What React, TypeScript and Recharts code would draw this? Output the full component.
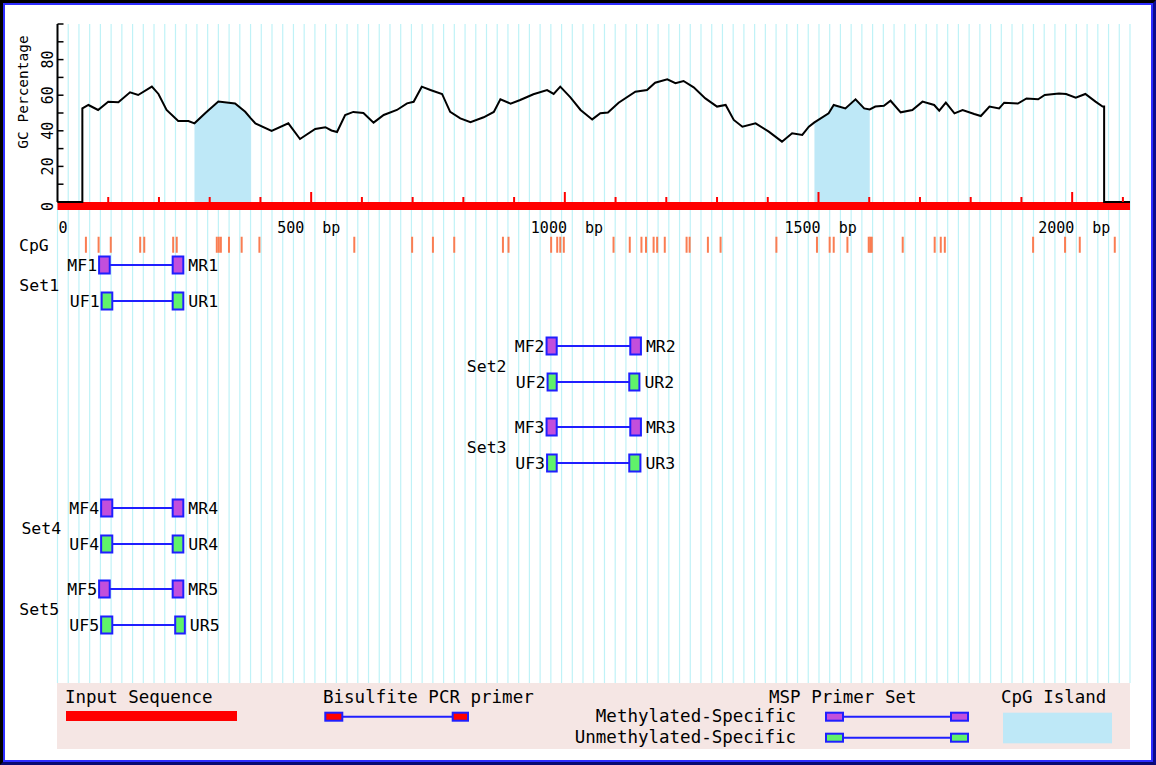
import React from "react";
import {
  ComposedChart,
  Line,
  Area,
  Scatter,
  XAxis,
  YAxis,
  CartesianGrid,
  ReferenceArea,
  ReferenceLine,
  ReferenceDot,
} from "recharts";

const seqLength = 2114;

// GC percentage profile: [position (bp), GC %]
const gcProfile: [number, number][] = [
  [0, 0], [49, 0], [49, 52.6], [61, 54.5], [80, 51.7], [100, 56.3], [120, 56], [143, 61.6],
  [159, 60.1], [186, 64.8], [199, 60.7], [215, 51.7], [238, 45.5], [258, 45.5], [270, 44.2],
  [291, 49.8], [317, 56.4], [350, 55.3], [370, 50.7], [381, 47], [390, 44.2], [422, 39.9],
  [455, 44.2], [478, 35.4], [508, 41], [528, 42], [540, 40.2], [551, 39.3], [567, 48.9],
  [583, 50.6], [603, 50], [623, 44.6], [643, 48.9], [669, 51.7], [689, 55.4], [702, 56.3],
  [718, 64.8], [735, 62.9], [758, 60.7], [774, 50.6], [794, 47], [814, 44.8], [840, 47.6],
  [860, 50.6], [873, 57.7], [893, 55.3], [912, 57.3], [938, 60.5], [965, 62.9], [978, 60.7],
  [991, 64.8], [1011, 58.8], [1031, 51.7], [1054, 46.4], [1070, 49.9], [1085, 50.3],
  [1106, 55.8], [1139, 62], [1162, 62.9], [1178, 67], [1202, 68.9], [1218, 66.7], [1234, 68],
  [1254, 64.4], [1277, 58.2], [1300, 53.6], [1317, 54.5], [1333, 46.1], [1350, 42.3],
  [1376, 44.2], [1402, 39.5], [1428, 33.9], [1448, 38.6], [1468, 37.7], [1481, 42.3],
  [1492, 44.7], [1520, 49.8], [1530, 54.5], [1553, 52.6], [1573, 57.7], [1590, 52.6],
  [1601, 52], [1612, 53.6], [1629, 54.1], [1642, 56.9], [1662, 50.4], [1685, 51.7],
  [1705, 56.4], [1728, 54.5], [1738, 51.3], [1751, 55.8], [1768, 49.8], [1784, 51.7],
  [1807, 49.4], [1820, 48.3], [1837, 53.6], [1856, 52.6], [1866, 55.8], [1893, 55.3],
  [1910, 58.2], [1933, 57.7], [1946, 60.1], [1974, 61], [1988, 60.7], [2007, 58.6],
  [2026, 60.7], [2046, 56.4], [2060, 53.6], [2063, 53.6], [2063, 0], [2114, 0],
];

const cpgIslands: [number, number][] = [
  [270, 381],
  [1492, 1601],
];

const cpgSites = [
  56, 81, 105, 163, 171, 228, 235, 314, 318, 322, 338, 363, 398, 585, 699, 740, 782, 878, 889,
  973, 985, 991, 998, 1096, 1128, 1151, 1160, 1175, 1182, 1197, 1240, 1246, 1282, 1307, 1417,
  1497, 1522, 1530, 1557, 1599, 1602, 1605, 1666, 1729, 1741, 1749, 1923, 1986, 2015, 2084,
];

// MSP primer sets (bp start, end)
const setNames = ["Set1", "Set2", "Set3", "Set4", "Set5"];
const mfPrimers: [number, number][] = [[82, 103], [964, 984], [964, 984], [86, 108], [82, 103]];
const mrPrimers: [number, number][] = [[227, 248], [1129, 1150], [1129, 1150], [227, 248], [227, 248]];
const ufPrimers: [number, number][] = [[87, 108], [966, 984], [965, 984], [86, 108], [86, 108]];
const urPrimers: [number, number][] = [[227, 248], [1127, 1147], [1127, 1149], [227, 248], [232, 251]];

const bpTicks = [
  0, 100, 200, 300, 400, 500, 600, 700, 800, 900, 1000, 1100, 1200, 1300, 1400, 1500, 1600,
  1700, 1800, 1900, 2000, 2100,
];
const bpLabels = [0, 500, 1000, 1500, 2000];
const gcTicks = [0, 10, 20, 30, 40, 50, 60, 70, 80, 90, 100];
const gcLabels = [0, 20, 40, 60, 80];

const gridTicks = Array.from({ length: 100 }, (_, i) => ((i + 1) * seqLength) / 100);

const mono = "'DejaVu Sans Mono', monospace";
const gridColor = "#bff2f7";
const islandColor = "#bee8f7";
const methColor = "#c24fdc";
const unmethColor = "#60f26a";
const primerBlue = "#1f1fff";
const cpgColor = "#fa7d52";

const cpgTrack = -2.25;
const boxHalf = 0.95;

const gcData = gcProfile.map(([bp, gc]) => ({
  bp,
  gc,
  island: cpgIslands.some(([s, e]) => bp >= s && bp <= e) ? gc : null,
}));

const cpgData = cpgSites.map((bp) => ({ bp, track: cpgTrack }));

function BpTick(props: any) {
  const { x, y, payload } = props;
  const v = payload.value;
  const major = bpLabels.includes(v);
  return (
    <g>
      {v !== 0 && (
        <line x1={x} x2={x} y1={y} y2={y - (major ? 10 : 5)} stroke="#ff0000" strokeWidth={2} />
      )}
      {major && (
        <text
          x={v === 0 ? x + 1 : x - 34}
          y={y + 31}
          fontFamily={mono}
          fontSize={15}
          fill="#000"
          style={{ whiteSpace: "pre" }}
        >
          {v === 0 ? "0" : `${v}  bp`}
        </text>
      )}
    </g>
  );
}

function GcTick(props: any) {
  const { x, y, payload } = props;
  const v = payload.value;
  return (
    <g>
      <line x1={x} x2={x + 6} y1={y} y2={y} stroke="#000" strokeWidth={1.5} />
      {gcLabels.includes(v) && (
        <text
          transform={`translate(${x - 4.5},${y + 9}) rotate(-90)`}
          fontFamily={mono}
          fontSize={15}
          fill="#000"
        >
          {v}
        </text>
      )}
    </g>
  );
}

export default function App() {
  const labelStyle = { fill: "#000", fontSize: 16.5, fontFamily: mono };

  const primerRows = setNames.flatMap((name, s) => {
    const n = s + 1;
    return [
      { f: mfPrimers[s], r: mrPrimers[s], row: 9 * s, fill: methColor, fl: `MF${n}`, rl: `MR${n}` },
      { f: ufPrimers[s], r: urPrimers[s], row: 9 * s + 4, fill: unmethColor, fl: `UF${n}`, rl: `UR${n}` },
    ];
  });

  return (
    <div style={{ position: "relative", width: 1156, height: 765, background: "#fff", overflow: "hidden" }}>
      <style>{`body{margin:0}`}</style>

      {/* CpG sites and primer sets */}
      <div style={{ position: "absolute", left: 0, top: 0 }}>
        <ComposedChart
          width={1156}
          height={765}
          data={cpgData}
          margin={{ top: 202, right: 26, bottom: 82, left: 57.5 }}
        >
          <CartesianGrid xAxisId="grid" vertical horizontal={false} stroke={gridColor} strokeWidth={1.2} />
          <XAxis
            xAxisId="grid"
            type="number"
            dataKey="bp"
            domain={[0, seqLength]}
            ticks={gridTicks}
            interval={0}
            hide
          />
          <XAxis type="number" dataKey="bp" domain={[0, seqLength]} hide />
          <YAxis type="number" dataKey="track" domain={[-7, 46.44]} reversed allowDataOverflow hide />
          <Scatter
            dataKey="track"
            isAnimationActive={false}
            shape={(p: any) => (
              <line x1={p.cx} x2={p.cx} y1={p.cy - 8} y2={p.cy + 8} stroke={cpgColor} strokeWidth={2} />
            )}
          />
          {primerRows.map((p) => (
            <ReferenceLine
              key={`l-${p.fl}`}
              segment={[
                { x: p.f[1], y: p.row },
                { x: p.r[0], y: p.row },
              ]}
              stroke={primerBlue}
              strokeWidth={2}
            />
          ))}
          {primerRows.map((p) => (
            <ReferenceArea
              key={`f-${p.fl}`}
              x1={p.f[0]}
              x2={p.f[1]}
              y1={p.row - boxHalf}
              y2={p.row + boxHalf}
              fill={p.fill}
              fillOpacity={1}
              stroke={primerBlue}
              strokeWidth={2}
              label={{ value: p.fl, position: "left", offset: 2, ...labelStyle }}
            />
          ))}
          {primerRows.map((p) => (
            <ReferenceArea
              key={`r-${p.rl}`}
              x1={p.r[0]}
              x2={p.r[1]}
              y1={p.row - boxHalf}
              y2={p.row + boxHalf}
              fill={p.fill}
              fillOpacity={1}
              stroke={primerBlue}
              strokeWidth={2}
              label={{ value: p.rl, position: "right", offset: 5, ...labelStyle }}
            />
          ))}
          {setNames.map((name, s) => (
            <ReferenceDot
              key={name}
              x={mfPrimers[s][0]}
              y={9 * s + 2.2}
              r={1}
              fill="none"
              stroke="none"
              label={{ value: name, position: "left", offset: 39, ...labelStyle }}
            />
          ))}
        </ComposedChart>
      </div>

      {/* GC percentage plot */}
      <div style={{ position: "absolute", left: 0, top: 0 }}>
        <ComposedChart
          width={1156}
          height={240}
          data={gcData}
          margin={{ top: 24, right: 26, bottom: 8, left: 7.5 }}
        >
          <CartesianGrid xAxisId="grid" vertical horizontal={false} stroke={gridColor} strokeWidth={1.2} />
          <XAxis
            xAxisId="grid"
            type="number"
            dataKey="bp"
            domain={[0, seqLength]}
            ticks={gridTicks}
            interval={0}
            hide
          />
          <XAxis
            type="number"
            dataKey="bp"
            domain={[0, seqLength]}
            ticks={bpTicks}
            interval={0}
            tickSize={0}
            tickMargin={0}
            axisLine={false}
            height={30}
            tick={(p: any) => <BpTick {...p} />}
          />
          <YAxis
            type="number"
            domain={[0, 100]}
            ticks={gcTicks}
            interval={0}
            width={50}
            tickSize={0}
            tickMargin={0}
            axisLine={{ stroke: "#000", strokeWidth: 2 }}
            tick={(p: any) => <GcTick {...p} />}
          />
          <ReferenceArea
            x1={0}
            x2={seqLength}
            y1={-4.5}
            y2={0}
            fill="#ff0000"
            fillOpacity={1}
            stroke="none"
            ifOverflow="visible"
          />
          <Area
            type="linear"
            dataKey="island"
            stroke="none"
            fill={islandColor}
            fillOpacity={1}
            baseValue={0}
            connectNulls={false}
            isAnimationActive={false}
          />
          <Line
            type="linear"
            dataKey="gc"
            stroke="#000"
            strokeWidth={2}
            dot={false}
            activeDot={false}
            isAnimationActive={false}
          />
        </ComposedChart>
      </div>

      {/* titles and legend */}
      <svg
        width={1156}
        height={765}
        style={{ position: "absolute", left: 0, top: 0, pointerEvents: "none" }}
        fontFamily={mono}
      >
        <text transform="translate(28,92) rotate(-90)" textAnchor="middle" fontSize={14.5} fill="#000">
          GC Percentage
        </text>
        <text x={19} y={251} fontSize={16.5} fill="#000">
          CpG
        </text>

        <rect x={57} y={683} width={1073} height={66} fill="#f5e6e4" />
        <text x={65} y={703} fontSize={17.5} fill="#000">Input Sequence</text>
        <rect x={66} y={711} width={171} height={10} fill="#ff0000" />

        <text x={323} y={703} fontSize={17.5} fill="#000">Bisulfite PCR primer</text>
        <line x1={343} x2={452} y1={716.7} y2={716.7} stroke={primerBlue} strokeWidth={2} />
        <rect x={325.3} y={712.7} width={17} height={8} fill="#ff0000" stroke={primerBlue} strokeWidth={2} />
        <rect x={452.7} y={712.7} width={15.3} height={8} fill="#ff0000" stroke={primerBlue} strokeWidth={2} />

        <text x={769} y={703} fontSize={17.5} fill="#000">MSP Primer Set</text>
        <text x={796} y={722} fontSize={17.5} fill="#000" textAnchor="end">Methylated-Specific</text>
        <text x={796} y={743} fontSize={17.5} fill="#000" textAnchor="end">Unmethylated-Specific</text>
        <line x1={844} x2={950} y1={716.7} y2={716.7} stroke={primerBlue} strokeWidth={2} />
        <rect x={826} y={712.7} width={17} height={8} fill={methColor} stroke={primerBlue} strokeWidth={2} />
        <rect x={951} y={712.7} width={17} height={8} fill={methColor} stroke={primerBlue} strokeWidth={2} />
        <line x1={844} x2={950} y1={737.7} y2={737.7} stroke={primerBlue} strokeWidth={2} />
        <rect x={826} y={733.7} width={17} height={8} fill={unmethColor} stroke={primerBlue} strokeWidth={2} />
        <rect x={951} y={733.7} width={17} height={8} fill={unmethColor} stroke={primerBlue} strokeWidth={2} />

        <text x={1001} y={703} fontSize={17.5} fill="#000">CpG Island</text>
        <rect x={1003} y={712.7} width={109} height={30.6} fill={islandColor} />
      </svg>

      {/* frame */}
      <div
        style={{
          position: "absolute",
          left: 0,
          top: 0,
          width: 1156,
          height: 765,
          boxSizing: "border-box",
          borderTop: "3px solid #000",
          borderLeft: "3px solid #000",
          borderRight: "3px solid #0a0a90",
          borderBottom: "3px solid #0a0a70",
          boxShadow: "inset 0 0 0 2px #2d2dff",
          pointerEvents: "none",
        }}
      />
    </div>
  );
}
